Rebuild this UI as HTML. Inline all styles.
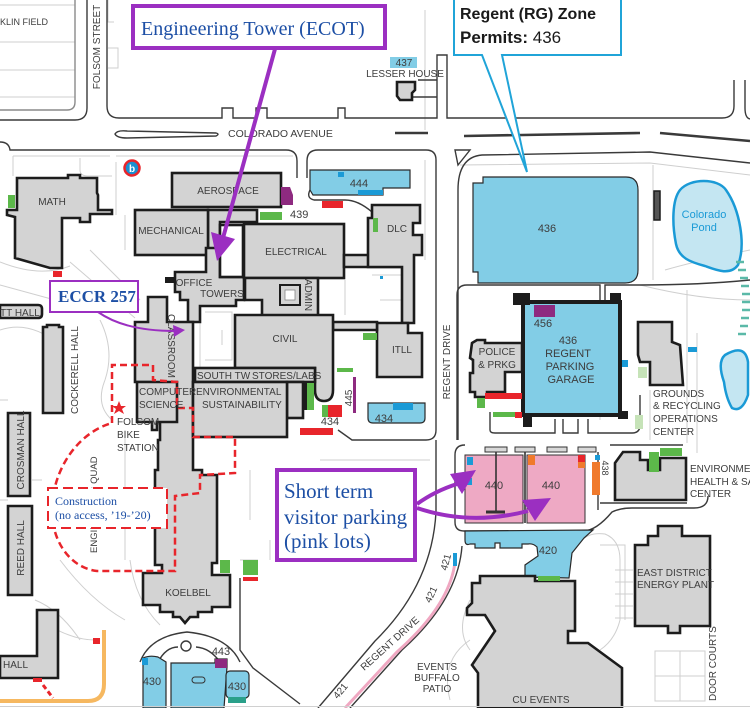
<!DOCTYPE html>
<html><head><meta charset="utf-8"><style>
html,body{margin:0;padding:0;background:#fff;}
svg{display:block;}
.b{fill:#d3d3d3;stroke:#1c1c1c;stroke-width:2.6;stroke-linejoin:miter;}
.r{fill:none;stroke:#3a3a3a;stroke-width:1.4;}
.w{fill:none;stroke:#cfcfcf;stroke-width:1;}
.t{font-family:"Liberation Sans",Arial,sans-serif;font-size:10px;fill:#3d3d3d;}
.c{text-anchor:middle;}
.lot{fill:#82cde6;stroke:#2a2a2a;stroke-width:1.2;}
.sf{font-family:"Liberation Serif","Times New Roman",serif;fill:#1d4fa5;}
</style></head><body>
<svg xmlns="http://www.w3.org/2000/svg" width="750" height="708" viewBox="0 0 750 708">
<rect width="750" height="708" fill="#fff"/>

<!-- faint walkways -->
<g class="w">
<path d="M0,5 H75 M0,42 H75 M0,70 H75 M0,97 H75"/>
<path d="M108,0 V22 H114 M108,48 H118 V68 H108"/>
<path d="M13,156 H110 M116,156 H293 M13,156 V176 M80,158 V170 Q80,176 88,176 H112"/>
<path d="M116,162 V215 M125,215 V250 M0,262 Q40,278 70,266 M0,285 L55,300 M0,330 Q30,320 60,345"/>
<path d="M70,262 L135,318 M90,250 L140,300 M100,320 Q115,350 105,380 Q95,405 112,420"/>
<path d="M0,400 H8 M0,500 H8 M32,480 H42 M35,600 Q60,610 80,640 M60,560 Q90,600 125,620"/>
<path d="M125,430 V560 M130,560 Q135,600 160,625 M40,620 Q70,640 95,640"/>
<path d="M200,305 V368 M205,312 H232 V360 H205 M222,330 V345"/>
<path d="M372,275 H413 M380,300 H408 M425,10 V130 M425,160 V260 M345,280 V315"/>
<path d="M460,165 L650,163 L750,175 M653,165 V280 M665,270 Q700,260 750,250 M640,285 Q700,300 750,300"/>
<path d="M687,290 V443 M697,333 V453 M600,300 V420 M650,390 V440"/>
<path d="M600,545 H625 V620 M615,570 H633 M615,582 H633 M615,594 H633 M615,606 H633 M615,618 H633"/>
<path d="M582,540 Q590,532 605,534 Q620,540 620,560 V620 Q615,640 600,650"/>
<path d="M655,651 H705 V701 H655 Z M680,651 V701 M655,676 H705"/>
<path d="M470,640 Q440,660 450,700 M470,600 Q455,630 470,650"/>
<path d="M240,560 H258 M270,540 V560 M320,460 H430 M250,470 V520"/>
</g>

<!-- roads -->
<g class="r">
<path d="M75,0 V102 Q75,110 67,110 H0" stroke="#8a8a8a"/>
<path d="M87,0 V108 Q87,120 75,120 H0"/>
<path d="M107,0 V106 Q107,118 119,118 H222 V108 H233 V118 H256 V108 H267 V118 H338 V108 H345 V118 H437 V55 H447 V118 H722 Q734,118 734,106 V80"/>
<path d="M745,80 V108 Q745,118 750,119"/>
<path d="M0,142 Q9,142 10,150 H286 Q297,150 297,161 V178"/>
<path d="M307,178 V161 Q307,150 318,150 H426 Q436,150 436,160 V430 Q436,440 426,440 H352 L338,430"/>
<path d="M436,440 V512 Q432,585 375,641 L318,708"/>
<path d="M462,546 Q458,600 402,650 L350,708"/>
<path d="M458,440 V190 Q458,157 482,155 L650,152 L750,163"/>
<path d="M457,440 V295 Q457,285 467,285 H600 V300 M605,300 V285 H640 Q700,285 750,280"/>
<path d="M115,134 Q117,130 127,131 L216,133 Q220,134 216,136 L127,138 Q117,138 115,134 Z"/>
<path d="M395,133 H428 M464,136 L640,133 M660,133 L750,141" stroke-width="2.6"/>
<path d="M418,80 H437 M408,97 H437"/>
<path d="M465,445 Q455,445 455,455 V522 Q455,531 464,531 H583 Q596,531 612,512 Q620,508 632,508 H694 Q708,508 708,496"/>
<path d="M598,452 V510"/>
<path d="M240,578 V650 L253,668 L300,704"/>
<path d="M140,662 Q150,636 187,632 Q228,636 240,662 M158,662 Q166,647 178,647 M196,647 Q210,648 220,662"/>
<path d="M310,190 Q306,198 314,200 H345 Q358,200 372,212"/>
<path d="M490,412 V430 Q490,433 495,433 H555 V419 M563,419 V433 H578 V419 M588,419 V433 H632 Q640,433 640,425 V395"/>
<path d="M600,503 H687 M610,445 H683"/>
<path d="M455,150 L470,150 L458,165 Z"/>
</g>
<circle cx="186" cy="646" r="5" fill="none" stroke="#3a3a3a" stroke-width="1.4"/>

<!-- Regent drive pink -->
<path d="M455,562 Q450,605 397,652 L345,708" fill="none" stroke="#f0a8c2" stroke-width="3"/>
<rect x="453" y="553" width="4" height="13" fill="#1a9ad6"/>
<path d="M0,701 H88 Q104,701 104,684 V630" fill="none" stroke="#f6b860" stroke-width="4"/>

<!-- ponds -->
<path d="M680,190 C690,178 718,178 726,190 C740,210 746,245 738,265 C730,276 716,270 705,266 C690,262 679,258 676,244 C672,224 672,200 680,190 Z" fill="#c4e6f2" stroke="#1a9ad6" stroke-width="2.5"/>
<path d="M725,355 Q745,343 748,362 L748,395 Q742,413 732,408 Q726,398 724,382 Q717,362 725,355 Z" fill="#c4e6f2" stroke="#1a9ad6" stroke-width="2.5"/>
<g stroke="#5bb9a8" stroke-width="2.5">
<path d="M736,262 h8 M738,270 h8 M740,278 h8 M741,286 h8 M742,294 h8 M742,302 h8 M742,310 h8 M741,318 h8 M740,326 h8 M738,334 h8"/>
</g>

<!-- blue lots -->
<path class="lot" d="M310,170 H410 V188 H383 V195 H313 L310,190 Z"/>
<rect x="338" y="172" width="6" height="5" fill="#1a9ad6"/>
<rect x="358" y="190" width="25" height="5" fill="#1a9ad6"/>
<path class="lot" d="M473,183 H483 V177 H626 Q638,177 638,190 V270 Q638,283 625,283 H478 V272 H473 Z"/>
<path class="lot" d="M368,403 H425 V418 Q425,423 420,423 H373 Q368,423 368,418 Z"/>
<rect x="393" y="403" width="20" height="7" fill="#1a9ad6"/>
<rect x="390" y="57" width="27" height="11" fill="#82cde6"/>
<path class="lot" d="M465,531 L593,530 L584,538 L572,553 L569,578 L525,577 L525,565 L538,556 L537,547 Q533,543 528,544 L522,544 L522,548 L500,548 L500,543 L495,543 L495,548 L475,548 L475,544 L470,544 Q465,546 465,540 Z"/>
<path class="lot" d="M143,658 Q150,655 158,657 L166,662 V708 H143 Z"/>
<rect x="142" y="658" width="6" height="7" fill="#1a9ad6"/>
<path class="lot" d="M171,663 H215 V659 H227 V667 L224,708 H171 Z"/>
<rect x="192" y="677" width="13" height="6" rx="3" fill="none" stroke="#333"/>
<rect class="lot" x="226" y="671" width="23" height="27" rx="4"/>
<rect x="228" y="697" width="18" height="6" fill="#2aa08a"/>
<rect x="215" y="659" width="12" height="9" fill="#8e2a80"/>

<!-- pink lots -->
<rect x="465" y="455" width="58" height="68" fill="#eea9c4" stroke="#333" stroke-width="1"/>
<rect x="527" y="455" width="58" height="68" fill="#eea9c4" stroke="#333" stroke-width="1"/>
<g fill="#d8d8d8" stroke="#333" stroke-width="1">
<rect x="485" y="447" width="22" height="5"/><rect x="515" y="447" width="20" height="5"/><rect x="547" y="447" width="20" height="5"/><rect x="578" y="447" width="18" height="5"/>
</g>
<path d="M496,452 V512 M525,452 V523" stroke="#333" stroke-width="1.6"/>
<path d="M486,512 H505" stroke="#333" stroke-width="3"/>
<rect x="467" y="457" width="6" height="8" fill="#1a9ad6"/>
<rect x="467" y="478" width="5" height="7" fill="#1a9ad6"/>
<rect x="528" y="455" width="7" height="10" fill="#f07a2c"/>
<rect x="578" y="455" width="7" height="7" fill="#e8252b"/>
<rect x="578" y="462" width="7" height="6" fill="#f07a2c"/>
<rect x="595" y="455" width="5" height="5" fill="#1a9ad6"/>
<rect x="592" y="462" width="8" height="33" fill="#f07a2c"/>

<!-- buildings -->
<path class="b" d="M17,178 H68 V175 H80 V178 H97 V193 L98,195 V210 H112 V214 H90 V222 H80 V218 H62 V268 H50 L15,258 V217 L7,215 V210 H17 Z"/>
<path class="b" d="M0,305 H38 Q42,305 42,309 V314 Q42,318 38,318 H0 Z"/>
<path class="b" d="M43,327 H47 V325 H59 V327 H63 V413 H43 Z"/>
<path class="b" d="M8,413 H30 V496 H8 Z"/>
<path class="b" d="M8,506 H32 V595 H8 Z"/>
<path class="b" d="M0,656 H37 V610 H58 V678 H0 Z"/>
<rect class="b" x="172" y="173" width="109" height="34"/>
<path class="b" d="M208,210 H257 V222 H220 V277 H208 Z"/>
<rect class="b" x="135" y="210" width="73" height="45"/>
<path class="b" d="M175,272 H206 V248 H220 V277 H244 V300 H236 V306 H200 V322 H188 V300 H180 V292 H175 Z"/>
<rect x="165" y="277" width="10" height="6" fill="#1c1c1c"/>
<rect x="247" y="293" width="11" height="6" fill="#1c1c1c"/>
<rect class="b" x="220" y="225" width="23" height="52" fill="#fff" style="fill:#fff"/>
<rect class="b" x="244" y="224" width="100" height="54"/>
<path class="b" d="M344,255 H407 V267 H344 Z"/>
<path class="b" d="M372,205 H420 V223 H413 V235 H422 V255 H414 V323 H402 V267 H368 V218 H372 Z"/>
<path class="b" d="M377,323 H408 V333 H422 V377 H377 Z"/>
<path class="b" d="M333,322 H377 V330 H333 Z"/>
<path class="b" d="M245,278 H318 V316 H262 V300 H245 Z"/>
<rect x="280" y="285" width="20" height="20" fill="#d3d3d3" stroke="#1c1c1c" stroke-width="2"/>
<rect x="285" y="290" width="10" height="10" fill="#fff" stroke="#888" stroke-width="0.8"/>
<path class="b" d="M148,297 H167 V322 H193 V470 H202 V475 H217 V563 H212 V575 H230 V607 H212 V612 H198 V617 H190 L185,623 L180,617 H173 V612 H160 V605 H143 V573 H162 V565 H155 V470 H158 V440 H160 V422 H150 V382 H135 V322 H148 Z"/>
<path class="b" d="M235,315 H333 V390 Q333,401 324,401 Q315,401 315,390 V368 H235 Z"/>
<rect class="b" x="195" y="368" width="120" height="14"/>
<rect class="b" x="287" y="382" width="16" height="36"/>
<rect x="303" y="382" width="4" height="28" fill="#1c1c1c"/>
<rect class="b" x="193" y="382" width="94" height="55"/>
<path class="b" d="M137,382 H177 V422 H157 V430 H152 V422 H137 Z"/>
<path class="b" d="M397,82 H415 V90 L412,93 V100 H400 L397,96 Z"/>
<path class="b" d="M472,343 L477,340 H485 V343 H522 V372 H505 V392 H487 V397 H475 V392 H470 V373 H473 V360 L470,358 Z"/>
<rect x="523" y="302" width="97" height="113" fill="#82cde6" stroke="#1c1c1c" stroke-width="4"/>
<path d="M513,293 H530 V305 H513 Z M523,413 H532 V427 H523 Z M610,293 H621 V302 H610 Z M618,411 H628 V419 H618 Z" fill="#1c1c1c"/>
<rect x="534" y="305" width="21" height="12" fill="#8e2a80"/>
<path class="b" d="M638,322 H672 V342 L680,345 L683,385 H650 V362 H640 L638,355 Z"/>
<path class="b" d="M615,463 L623,452 H640 V460 H648 V470 H660 V458 H686 V500 H615 Z"/>
<path class="b" d="M648,536 H658 V526 H682 V536 H710 V626 H680 V633 H668 V626 H635 V545 H648 Z"/>
<path class="b" d="M472,583 H480 V576 H535 V581 H575 V631 H568 V643 H588 L622,668 V708 H478 V673 L472,665 L495,631 L485,615 H467 V608 L472,603 Z"/>
<rect x="654" y="191" width="6" height="29" fill="#555" stroke="#1c1c1c" stroke-width="1.5"/>

<!-- colored marks -->
<g>
<rect x="8" y="195" width="7" height="13" fill="#5cb84a"/>
<rect x="53" y="271" width="9" height="6" fill="#e8252b"/>
<path d="M281,187 H290 L293,195 V205 H281 Z" fill="#8e2a80"/>
<rect x="260" y="212" width="22" height="8" fill="#5cb84a"/>
<rect x="322" y="201" width="21" height="7" fill="#e8252b"/>
<rect x="373" y="218" width="5" height="14" fill="#5cb84a"/>
<rect x="363" y="333" width="14" height="7" fill="#5cb84a"/>
<rect x="337" y="368" width="16" height="4" fill="#5cb84a"/>
<rect x="307" y="383" width="7" height="27" fill="#5cb84a"/>
<rect x="322" y="405" width="6" height="12" fill="#5cb84a"/>
<rect x="328" y="405" width="14" height="12" fill="#e8252b"/>
<rect x="300" y="428" width="33" height="7" fill="#e8252b"/>
<rect x="353" y="377" width="3" height="36" fill="#8e2a80"/>
<rect x="485" y="393" width="37" height="6" fill="#e8252b"/>
<rect x="477" y="398" width="8" height="10" fill="#5cb84a"/>
<rect x="493" y="412" width="22" height="5" fill="#5cb84a"/>
<rect x="515" y="412" width="7" height="6" fill="#e8252b"/>
<rect x="622" y="360" width="6" height="7" fill="#1a9ad6"/>
<rect x="688" y="347" width="9" height="5" fill="#1a9ad6"/>
<rect x="638" y="367" width="9" height="11" fill="#c6e3b8"/>
<rect x="635" y="415" width="8" height="14" fill="#c6e3b8"/>
<rect x="660" y="448" width="22" height="8" fill="#5cb84a"/>
<rect x="649" y="452" width="10" height="20" fill="#5cb84a"/>
<rect x="538" y="576" width="22" height="5" fill="#5cb84a"/>
<rect x="220" y="560" width="10" height="13" fill="#5cb84a"/>
<rect x="243" y="560" width="15" height="15" fill="#5cb84a"/>
<rect x="243" y="577" width="15" height="4" fill="#e8252b"/>
<rect x="93" y="638" width="7" height="6" fill="#e8252b"/>
<rect x="33" y="678" width="9" height="4" fill="#e8252b"/>
<path d="M43,685 L53,698" stroke="#e8252b" stroke-width="3" stroke-dasharray="5,3"/>
<rect x="380" y="276" width="3" height="3" fill="#1a9ad6"/>
</g>

<!-- bike icon and star -->
<circle cx="132" cy="168" r="7.5" fill="#1a8fd0" stroke="#e8252b" stroke-width="2.5"/>
<text x="132" y="172" font-family="Liberation Sans,sans-serif" font-weight="bold" font-size="10" fill="#fff" text-anchor="middle">b</text>
<path d="M119,401 L121,406 L126,406 L122,409 L124,414 L119,411 L114,414 L116,409 L112,406 L117,406 Z" fill="#e8252b"/>

<!-- construction dashed -->
<path d="M112,423 V365 H153 V380 L177,382 V408 H193 V437 H235 V473 L200,475 V493 L175,496 V571 H97 C70,568 50,540 52,505 C55,465 80,432 112,423 Z" fill="none" stroke="#e8252b" stroke-width="2.5" stroke-dasharray="7,4"/>

<!-- map labels -->
<g class="t">
<text x="0" y="25" font-size="9">KLIN FIELD</text>
<text transform="translate(100,47) rotate(-90)" class="c">FOLSOM STREET</text>
<text x="228" y="137" font-size="10.5">COLORADO AVENUE</text>
<text x="404" y="66" class="c" font-size="10">437</text>
<text x="405" y="77" class="c">LESSER HOUSE</text>
<text x="52" y="205" class="c">MATH</text>
<text x="228" y="194" class="c">AEROSPACE</text>
<text x="290" y="218" font-size="11">439</text>
<text x="359" y="187" class="c" font-size="11">444</text>
<text x="171" y="234" class="c">MECHANICAL</text>
<text x="296" y="255" class="c">ELECTRICAL</text>
<text x="397" y="232" class="c">DLC</text>
<text x="194" y="286" class="c">OFFICE</text>
<text x="222" y="297" class="c">TOWERS</text>
<text transform="translate(305,295) rotate(90)" class="c">ADMIN</text>
<text x="285" y="342" class="c">CIVIL</text>
<text x="402" y="353" class="c">ITLL</text>
<text x="197" y="379">SOUTH TW</text>
<text x="252" y="379">STORES/LABS</text>
<text x="139" y="395">COMPUTER</text>
<text x="139" y="408">SCIENCE</text>
<text x="196" y="395">ENVIRONMENTAL</text>
<text x="202" y="408">SUSTAINABILITY</text>
<text transform="translate(168,346) rotate(90)" class="c">CLASSROOM</text>
<text transform="translate(352,398) rotate(-90)" class="c">445</text>
<text x="330" y="425" class="c" font-size="11">434</text>
<text x="384" y="422" class="c" font-size="11">434</text>
<text transform="translate(450,362) rotate(-90)" class="c">REGENT DRIVE</text>
<text x="497" y="355" class="c">POLICE</text>
<text x="497" y="368" class="c">&amp; PRKG</text>
<text x="543" y="327" class="c" font-size="11">456</text>
<text x="568" y="344" class="c" font-size="11">436</text>
<text x="568" y="357" class="c" font-size="11">REGENT</text>
<text x="570" y="370" class="c" font-size="11">PARKING</text>
<text x="571" y="383" class="c" font-size="11">GARAGE</text>
<text x="547" y="232" class="c" font-size="11">436</text>
<text x="704" y="218" class="c" font-size="11" style="fill:#1a9ad6">Colorado</text>
<text x="704" y="231" class="c" font-size="11" style="fill:#1a9ad6">Pond</text>
<text x="653" y="397">GROUNDS</text>
<text x="653" y="409">&amp; RECYCLING</text>
<text x="653" y="422">OPERATIONS</text>
<text x="653" y="435">CENTER</text>
<text x="690" y="472">ENVIRONMENTAL</text>
<text x="690" y="485">HEALTH &amp; SAFETY</text>
<text x="690" y="497">CENTER</text>
<text x="494" y="489" class="c" font-size="11">440</text>
<text x="551" y="489" class="c" font-size="11">440</text>
<text transform="translate(602,468) rotate(90)" class="c" font-size="9">438</text>
<text x="548" y="554" class="c" font-size="11">420</text>
<text x="637" y="576">EAST DISTRICT</text>
<text x="637" y="588">ENERGY PLANT</text>
<text x="437" y="670" class="c">EVENTS</text>
<text x="437" y="681" class="c">BUFFALO</text>
<text x="437" y="692" class="c">PATIO</text>
<text x="541" y="703" class="c">CU EVENTS</text>
<text transform="translate(716,701) rotate(-90)">DOOR COURTS</text>
<text x="188" y="596" class="c">KOELBEL</text>
<text x="152" y="685" class="c" font-size="11">430</text>
<text x="221" y="655" class="c" font-size="11">443</text>
<text x="237" y="690" class="c" font-size="11">430</text>
<text x="3" y="668">HALL</text>
<text transform="translate(24,548) rotate(-90)" class="c">REED HALL</text>
<text transform="translate(24,450) rotate(-90)" class="c">CROSMAN HALL</text>
<text transform="translate(78,370) rotate(-90)" class="c">COCKERELL HALL</text>
<text x="0" y="316">TT HALL</text>
<text transform="translate(97,553) rotate(-90)" font-size="9.5">ENGINEERING QUAD</text>
<text x="117" y="425">FOLSOM</text>
<text x="117" y="438">BIKE</text>
<text x="117" y="451">STATION</text>
<text transform="translate(449,563) rotate(-75)" class="c" font-size="10">421</text>
<text transform="translate(434,596) rotate(-65)" class="c" font-size="10">421</text>
<text transform="translate(343,693) rotate(-50)" class="c" font-size="10">421</text>
<text transform="translate(392,646) rotate(-42)" class="c" font-size="10">REGENT DRIVE</text>
</g>

<line x1="0" y1="706.5" x2="750" y2="706.5" stroke="#d0d0d0" stroke-width="1"/>

<!-- callouts -->
<rect x="133" y="6" width="252" height="42" fill="#fff" stroke="#9b2fc1" stroke-width="4"/>
<text x="141" y="35" class="sf" font-size="20">Engineering Tower (ECOT)</text>
<line x1="275" y1="49" x2="223" y2="238" stroke="#9b2fc1" stroke-width="4"/>
<path d="M217,261 L235,239 L211,232 Z" fill="#9b2fc1"/>

<path d="M454,-2 V55 H482 L527,172 L502,55 H621 V-2" fill="#fff" stroke="#20a4d8" stroke-width="2"/>
<text x="460" y="19" font-family="Liberation Sans,Arial,sans-serif" font-weight="bold" font-size="16" fill="#1a1a1a">Regent (RG) Zone</text>
<text x="460" y="43" font-family="Liberation Sans,Arial,sans-serif" font-size="17" fill="#1a1a1a"><tspan font-weight="bold">Permits:</tspan> 436</text>

<rect x="50" y="281" width="88" height="31" fill="#fff" stroke="#9b2fc1" stroke-width="2"/>
<text x="58" y="302" class="sf" font-size="17" font-weight="bold">ECCR 257</text>
<path d="M98,312 Q125,331 175,331" fill="none" stroke="#9b2fc1" stroke-width="2"/>
<path d="M185,330 L173,325 L174,337 Z" fill="#9b2fc1"/>

<rect x="48" y="488" width="119" height="40" fill="#fff" stroke="#e8252b" stroke-width="2" stroke-dasharray="10,5"/>
<text x="55" y="505" class="sf" font-size="12">Construction</text>
<text x="55" y="519" class="sf" font-size="12">(no access, ’19-’20)</text>

<rect x="277" y="470" width="138" height="90" fill="#fff" stroke="#9b2fc1" stroke-width="4"/>
<text x="284" y="498" class="sf" font-size="21">Short term</text>
<text x="284" y="524" class="sf" font-size="21">visitor parking</text>
<text x="284" y="548" class="sf" font-size="21">(pink lots)</text>
<path d="M417,504 Q435,491 457,484" fill="none" stroke="#9b2fc1" stroke-width="4"/>
<path d="M476,470 L450,474 L462,494 Z" fill="#9b2fc1"/>
<path d="M417,508 Q470,526 528,511" fill="none" stroke="#9b2fc1" stroke-width="4"/>
<path d="M551,498 L522,500 L535,521 Z" fill="#9b2fc1"/>
</svg>
</body></html>
